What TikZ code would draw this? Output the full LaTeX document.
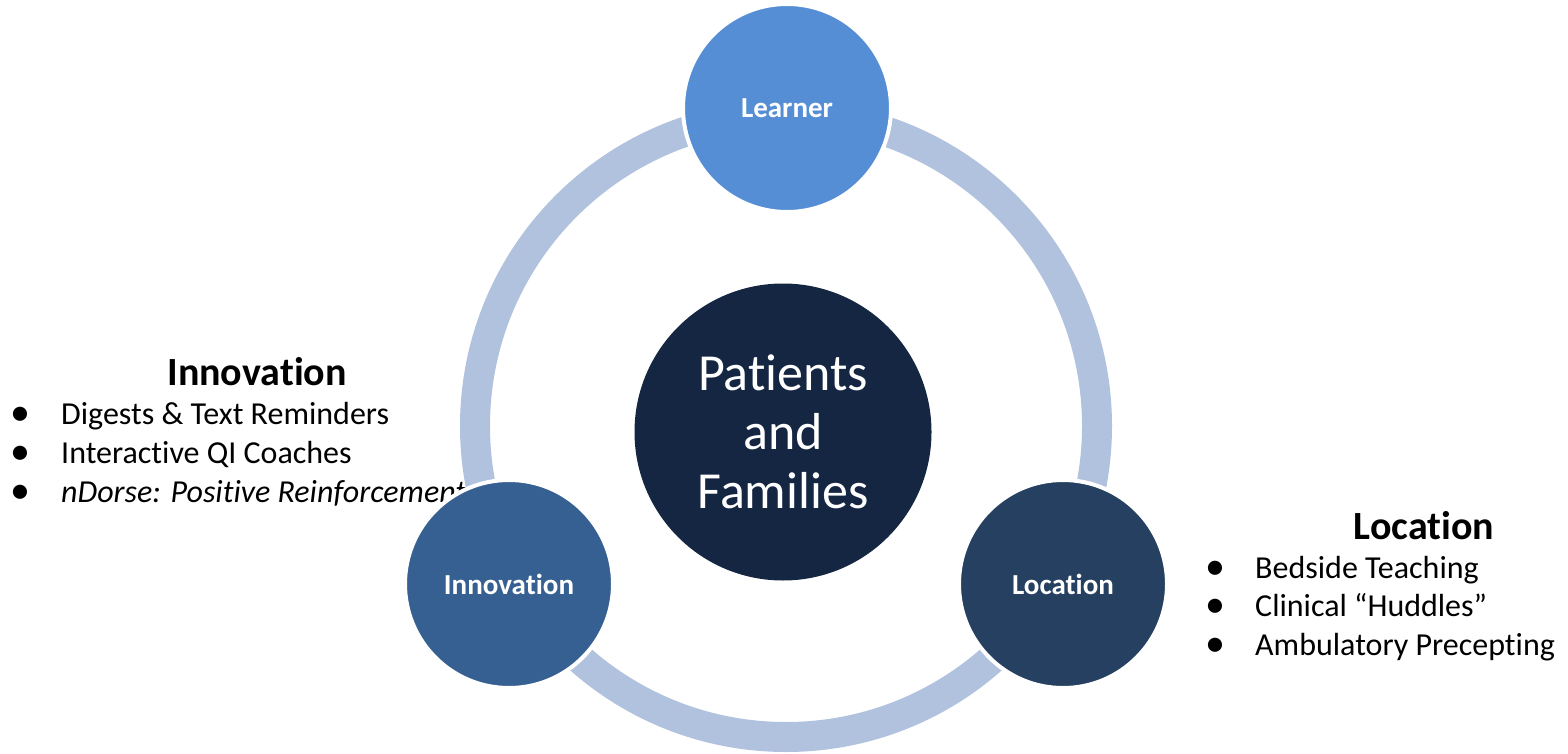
\documentclass[tikz,border=0pt]{standalone}
\usepackage{fontspec}
\setmainfont{Carlito}[Ligatures=NoCommon]
\usetikzlibrary{positioning}
\definecolor{ring}{RGB}{176,194,222}
\definecolor{learn}{RGB}{85,142,213}
\definecolor{innov}{RGB}{55,96,146}
\definecolor{locat}{RGB}{37,64,97}
\definecolor{core}{RGB}{20,38,66}
\tikzset{
  every node/.style={inner sep=0pt},
  sat/.style={circle,draw=white,line width=4pt,minimum size=208pt,
              text=white,font=\fontsize{29}{33}\selectfont\bfseries},
  hub/.style={circle,minimum size=297pt,fill=core,text=white,align=center,
              font=\fontsize{52}{59}\selectfont},
  head/.style={anchor=base,font=\fontsize{40}{46}\selectfont\bfseries},
  item/.style={anchor=base west,font=\fontsize{32}{38}\selectfont},
  dot/.style={anchor=base,font=\fontsize{40}{38}\selectfont},
}

\begin{document}
\begin{tikzpicture}[x=1pt,y=1pt]
  \useasboundingbox (0,0) rectangle (1568,-754);

  % side lists (drawn first, the ring and circles sit on top)
  \node[head] (innhead) at (257,-385) {Innovation};
  \foreach \t [count=\i] in {Digests \& Text Reminders,Interactive QI Coaches,{\itshape nDorse: Positive Reinforcement}}{
    \node[dot] (innb\i) at (20,-425-39*\i+39) {\textbullet};
    \node[item] (inn\i) at (61,-424-39*\i+39) {\t};
  }
  \node[head] (lochead) at (1424,-539) {Location};
  \foreach \t [count=\i] in {Bedside Teaching,Clinical “Huddles”,Ambulatory Precepting}{
    \node[dot] (locb\i) at (1215,-579-38.5*\i+38.5) {\textbullet};
    \node[item] (loc\i) at (1255,-578-38.5*\i+38.5) {\t};
  }

  % cycle ring
  \draw[ring,line width=30pt] (786,-426) circle[radius=311];

  % centre and satellites
  \node[hub] (pf) at (783,-432) {Patients\\and\\Families};
  \node[sat,fill=learn] (learner) at (787,-108) {Learner};
  \node[sat,fill=innov] (innovation) at (509,-584) {Innovation};
  \node[sat,fill=locat] (location) at (1063,-584) {Location};
\end{tikzpicture}
\end{document}
